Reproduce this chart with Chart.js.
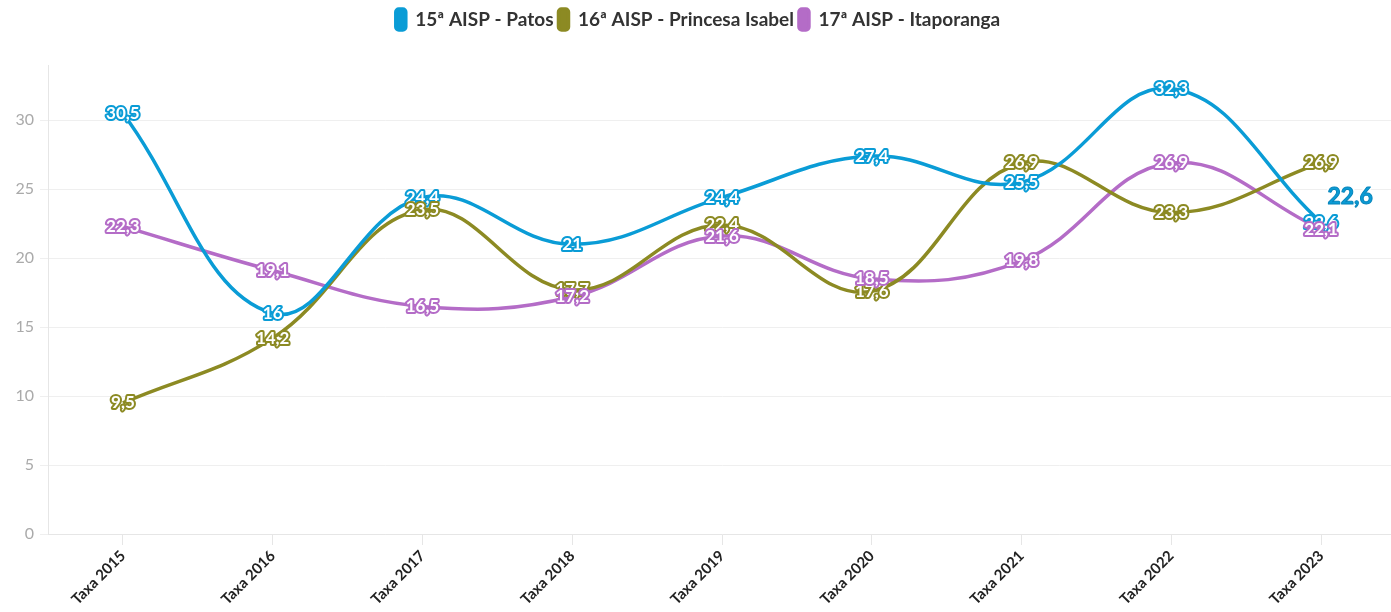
<!DOCTYPE html>
<html>
<head>
<meta charset="utf-8">
<script src="https://cdn.jsdelivr.net/npm/chart.js@4"></script>
<style>
    html, body { margin: 0; padding: 0; background: #fff; overflow: hidden; }
    #wrap { width: 1396px; height: 612px; }
</style>
</head>
<body>
<div id="wrap"><canvas id="taxaChart"></canvas></div>
<script>
const labels = ['Taxa 2015', 'Taxa 2016', 'Taxa 2017', 'Taxa 2018', 'Taxa 2019', 'Taxa 2020', 'Taxa 2021', 'Taxa 2022', 'Taxa 2023'];
const patos = [30.5, 16, 24.4, 21, 24.4, 27.4, 25.5, 32.3, 22.6];
const princesaIsabel = [9.5, 14.2, 23.5, 17.7, 22.4, 17.6, 26.9, 23.3, 26.9];
const itaporanga = [22.3, 19.1, 16.5, 17.2, 21.6, 18.5, 19.8, 26.9, 22.1];
const yTicks = [0, 5, 10, 15, 20, 25, 30];

const colors = ['#0a9cd6', '#8c8a23', '#b46cc7'];
const fontFamily = 'Lato, "Noto Sans", sans-serif';

function fmt(v) {
    return String(v).replace('.', ',');
}

// extra room between the legend and the plot
const legendSpace = {
    id: 'legendSpace',
    beforeInit(chart) {
        const legend = chart.legend;
        if (!legend) return;
        const fit = legend.fit;
        legend.fit = function () {
            fit.call(this);
            this.height += 25;
        };
    }
};

// white values with a coloured outline, centred on each point
const valueLabels = {
    id: 'valueLabels',
    afterDatasetsDraw(chart) {
        const ctx = chart.ctx;
        ctx.save();
        ctx.font = 'bold 17px ' + fontFamily;
        ctx.textAlign = 'center';
        ctx.textBaseline = 'middle';
        ctx.lineJoin = 'round';
        chart.data.datasets.forEach((ds, i) => {
            const meta = chart.getDatasetMeta(i);
            meta.data.forEach((pt, j) => {
                const text = fmt(ds.data[j]);
                ctx.lineWidth = 4;
                ctx.strokeStyle = ds.borderColor;
                ctx.strokeText(text, pt.x, pt.y);
                ctx.fillStyle = '#ffffff';
                ctx.fillText(text, pt.x, pt.y);
            });
        });

        // highlighted last value of the first series
        const last = chart.getDatasetMeta(0).data[patos.length - 1];
        const text = fmt(patos[patos.length - 1]);
        const lx = last.x + 29;
        const ly = last.y - 26;
        ctx.font = 'bold 23px ' + fontFamily;
        ctx.lineWidth = 4;
        ctx.strokeStyle = '#ffffff';
        ctx.strokeText(text, lx, ly);
        ctx.fillStyle = colors[0];
        ctx.fillText(text, lx, ly);
        ctx.lineWidth = 1;
        ctx.strokeStyle = '#0785bb';
        ctx.strokeText(text, lx, ly);
        ctx.restore();
    }
};

function makeDataset(label, data, color) {
    return {
        label: label,
        data: data,
        borderColor: color,
        backgroundColor: color,
        borderWidth: 3.5,
        tension: 0.4,
        pointRadius: 0,
        fill: false
    };
}

const ctx = document.getElementById('taxaChart').getContext('2d');
const chart = new Chart(ctx, {
    type: 'line',
    data: {
        labels: labels,
        datasets: [
            makeDataset('15ª AISP - Patos', patos, colors[0]),
            makeDataset('16ª AISP - Princesa Isabel', princesaIsabel, colors[1]),
            makeDataset('17ª AISP - Itaporanga', itaporanga, colors[2])
        ]
    },
    options: {
        responsive: true,
        maintainAspectRatio: false,
        animation: false,
        layout: { padding: { top: 4, right: 0, bottom: 0, left: 0 } },
        plugins: {
            legend: {
                display: true,
                labels: {
                    boxWidth: 10,
                    boxHeight: 21,
                    useBorderRadius: true,
                    borderRadius: 3,
                    padding: 5,
                    color: '#333333',
                    font: { family: fontFamily, size: 19, weight: 'bold' }
                }
            },
            tooltip: { enabled: false }
        },
        scales: {
            x: {
                offset: true,
                grid: {
                    drawOnChartArea: false,
                    drawTicks: true,
                    tickLength: 11,
                    color: '#e6e6e6'
                },
                border: { color: '#e6e6e6' },
                ticks: {
                    minRotation: 45,
                    maxRotation: 45,
                    padding: 2,
                    color: '#222222',
                    font: { family: fontFamily, size: 15, weight: 'bold' }
                },
                afterFit: scale => { scale.height = 78; }
            },
            y: {
                min: 0,
                max: 34,
                grid: {
                    color: '#efefef',
                    tickLength: 8
                },
                border: { color: '#e6e6e6' },
                ticks: {
                    stepSize: 5,
                    padding: 6,
                    color: '#aaaaaa',
                    font: { family: fontFamily, size: 16 }
                },
                afterBuildTicks: scale => {
                    scale.ticks = yTicks.map(v => ({ value: v }));
                },
                afterFit: scale => { scale.width = 48; }
            }
        }
    },
    plugins: [legendSpace, valueLabels]
});
</script>
</body>
</html>
